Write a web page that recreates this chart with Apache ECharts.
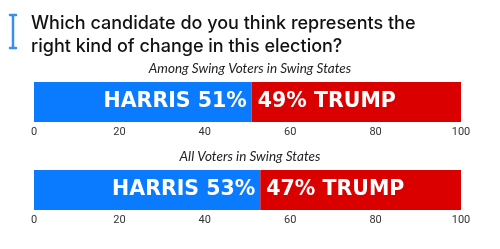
<!DOCTYPE html>
<html><head><meta charset="utf-8">
<script src="https://cdn.jsdelivr.net/npm/echarts@6/dist/echarts.min.js"></script>
<style>html,body{margin:0;padding:0;background:#fff}#c{width:500px;height:249px}</style>
</head><body><div id="c"></div>
<script>
const titleText = 'Which candidate do you think represents the\nright kind of change in this election?';
const panels = ['Among Swing Voters in Swing States', 'All Voters in Swing States'];
const harris = [51, 53];
const trump = [49, 47];
const ticks = [0, 20, 40, 60, 80, 100];

const chart = echarts.init(document.getElementById('c'), null, {renderer: 'canvas'});
const gridTops = [82, 170];
const grids = [], xAxes = [], yAxes = [], series = [], titles = [];
titles.push({text: titleText, left: 26, top: 7, textStyle: {fontFamily: 'Inter', fontWeight: 500, fontSize: 18, lineHeight: 23, color: '#111'}});
panels.forEach((p, i) => {
  grids.push({left: 34, right: 39, top: gridTops[i], height: 40});
  titles.push({text: p, left: 'center', top: gridTops[i] - 25, textStyle: {fontFamily: 'Lato', fontStyle: 'italic', fontWeight: 'normal', fontSize: 13.5, color: '#222'}});
  xAxes.push({gridIndex: i, type: 'value', min: ticks[0], max: ticks[ticks.length-1], interval: 20,
    axisLine: {show: false}, axisTick: {show: false}, splitLine: {show: false},
    axisLabel: {color: '#333', fontFamily: 'Roboto', fontSize: 11, margin: 5}});
  yAxes.push({gridIndex: i, type: 'category', data: [p], show: false});
  series.push({type: 'bar', xAxisIndex: i, yAxisIndex: i, stack: 's' + i, data: [harris[i]], barWidth: '100%',
    itemStyle: {color: '#0A7BFF'},
    label: {show: true, position: 'insideRight', distance: 5, formatter: 'HARRIS ' + harris[i] + '%', color: '#fff', fontFamily: 'DejaVu Sans', fontWeight: 'bold', fontSize: 20.5}});
  series.push({type: 'bar', xAxisIndex: i, yAxisIndex: i, stack: 's' + i, data: [trump[i]], barWidth: '100%',
    itemStyle: {color: '#DB0000'},
    label: {show: true, position: 'insideLeft', distance: 6, formatter: trump[i] + '% TRUMP', color: '#fff', fontFamily: 'DejaVu Sans', fontWeight: 'bold', fontSize: 20.5}});
});
chart.setOption({
  animation: false,
  title: titles,
  grid: grids, xAxis: xAxes, yAxis: yAxes, series: series,
  graphic: [
    {type: 'line', shape: {x1: 13, y1: 15, x2: 13, y2: 48}, style: {stroke: '#3A8EF0', lineWidth: 2.5}},
    {type: 'line', shape: {x1: 10, y1: 15, x2: 16, y2: 15}, style: {stroke: '#3A8EF0', lineWidth: 2.5, lineCap: 'round'}},
    {type: 'line', shape: {x1: 10, y1: 48, x2: 16, y2: 48}, style: {stroke: '#3A8EF0', lineWidth: 2.5, lineCap: 'round'}}
  ]
});
</script></body></html>
